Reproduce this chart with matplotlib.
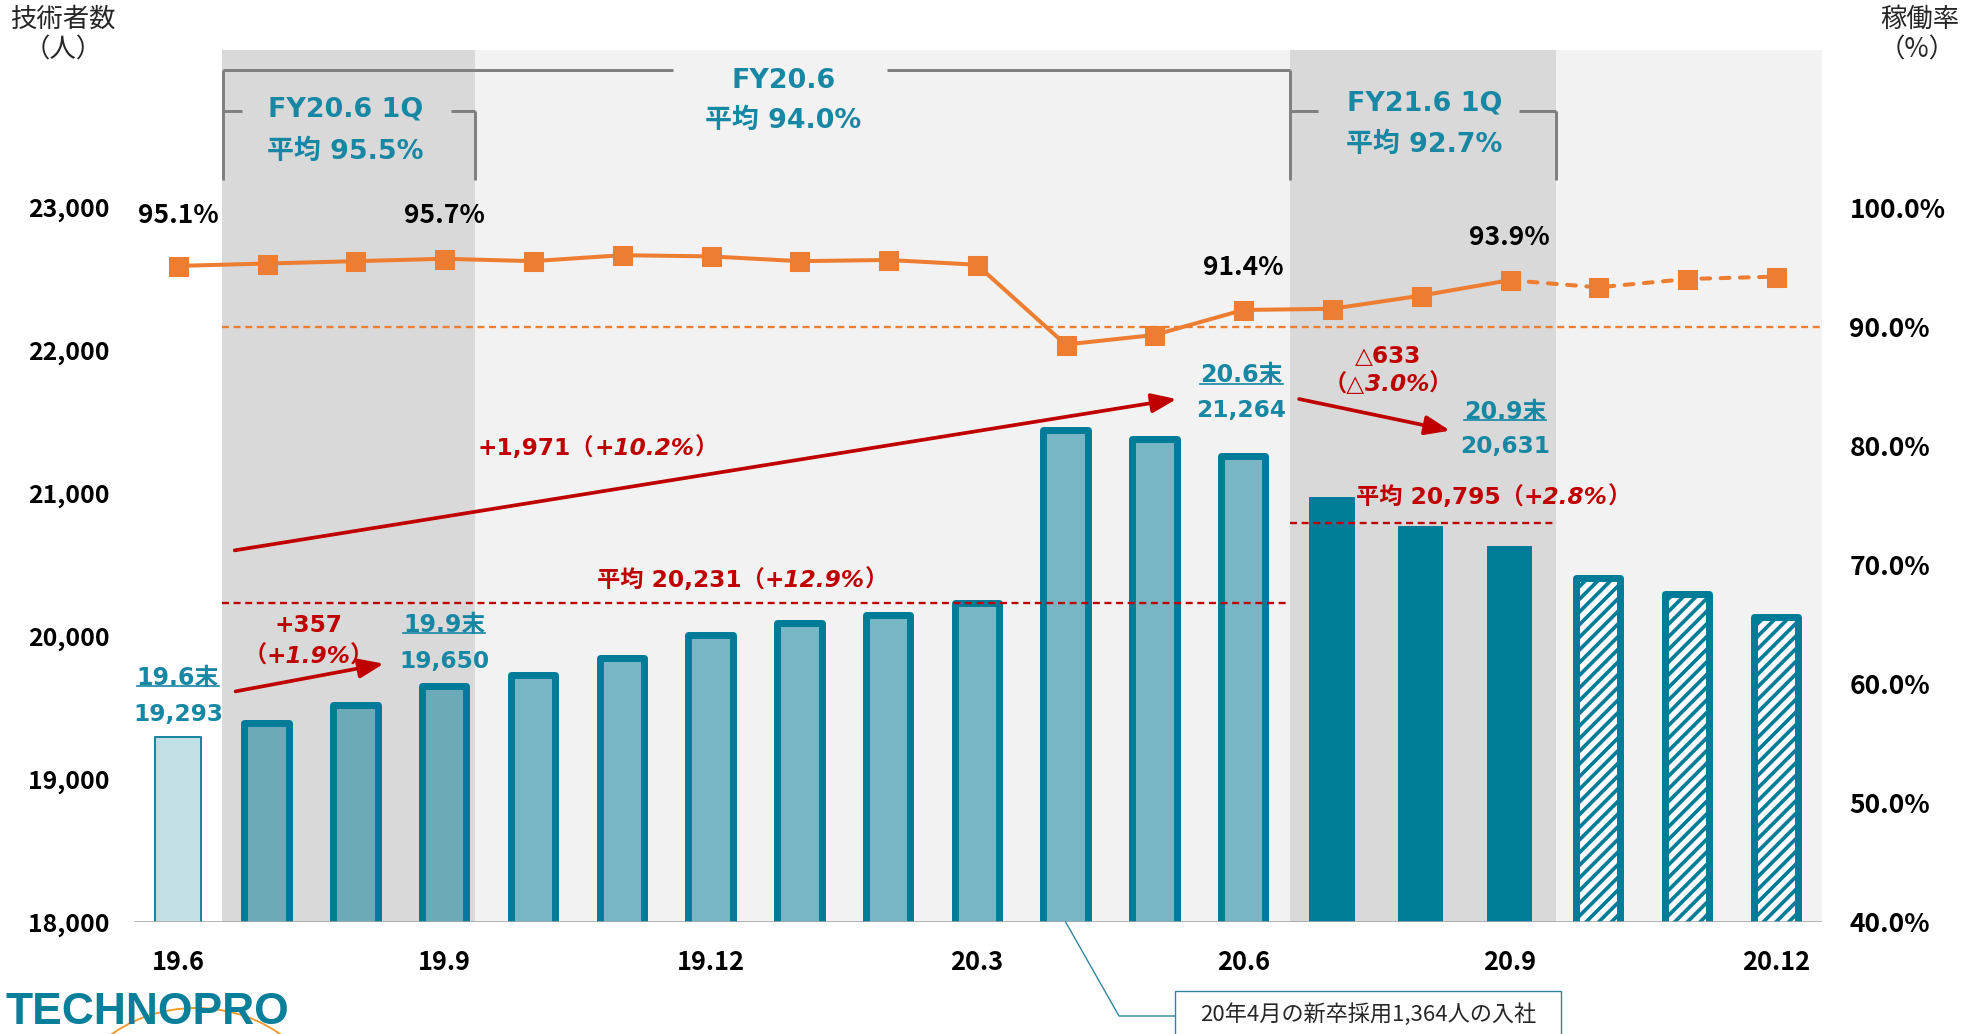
import numpy as np
import matplotlib.pyplot as plt
from matplotlib.patches import Rectangle, Arc
from matplotlib.lines import Line2D
from matplotlib.transforms import ScaledTranslation, IdentityTransform

# monthly data
months = ['19.6', '19.7', '19.8', '19.9', '19.10', '19.11', '19.12', '20.1', '20.2', '20.3',
          '20.4', '20.5', '20.6', '20.7', '20.8', '20.9', '20.10', '20.11', '20.12']
tick_months = ['19.6', '19.9', '19.12', '20.3', '20.6', '20.9', '20.12']
engineers = [19293, 19390, 19518, 19650, 19730, 19850, 20010, 20095, 20150, 20230,
             21440, 21380, 21264, 20972, 20769, 20631, 20409, 20295, 20136]
util_rate = [95.1, 95.3, 95.5, 95.7, 95.5, 96.0, 95.9, 95.5, 95.6, 95.2,
             88.5, 89.3, 91.4, 91.5, 92.6, 93.9, 93.3, 94.0, 94.2]
avg_fy20 = 20231
avg_fy21_1q = 20795
period_names = ['FY20.6 1Q', 'FY20.6', 'FY21.6 1Q']
period_avgs = ['平均 95.5%', '平均 94.0%', '平均 92.7%']
note = '20年4月の新卒採用1,364人の入社'

DPI = 76
W, H = 1974, 1034
TEAL = '#007c99'
TEAL_TXT = '#1787a3'
RED = '#c00000'
ORANGE = '#ed7d31'
GRAY = '#7f7f7f'
JP = ['Noto Sans CJK JP', 'DejaVu Sans']
VD = ['DejaVu Sans', 'Noto Sans CJK JP']

plt.rcParams['font.family'] = JP
plt.rcParams['hatch.linewidth'] = 3.5

fig = plt.figure(figsize=(W / DPI, H / DPI), dpi=DPI)
ax = fig.add_axes([133.5 / W, 112 / H, 1688.5 / W, 871.6 / H])
x = np.arange(len(months))

ax.set_xlim(-0.5, 18.52)
ax.set_ylim(18000, 24100)

# background shading
ax.axvspan(0.5, 18.52, color='#f2f2f2', lw=0, zorder=0)
ax.axvspan(0.5, 3.345, color='#d9d9d9', lw=0, zorder=0)
ax.axvspan(12.53, 15.52, color='#d9d9d9', lw=0, zorder=0)

# bars
bars = []
bars += ax.bar(x[0], engineers[0], width=0.52, color='#c2dfe5', edgecolor='#1a87a0', lw=1.9, zorder=2).patches
bars += ax.bar(x[1:13], engineers[1:13], width=0.5, color=(0, 0.486, 0.6, 0.5), edgecolor=TEAL,
               lw=6.6, zorder=2).patches
bars += ax.bar(x[13:16], engineers[13:16], width=0.51, color=TEAL, lw=0, zorder=2).patches
bars += ax.bar(x[16:], engineers[16:], width=0.5, color='white', edgecolor=TEAL, hatch='//',
               lw=6.6, zorder=2).patches
for p in bars:
    p.set_joinstyle('round')

ax.axhline(18000, color='#a6a6a6', lw=1.5, zorder=3)
for s in ax.spines.values():
    s.set_visible(False)
yt = np.arange(18000, 23001, 1000)
ax.set_yticks(yt, [f'{v:,}' for v in yt], fontsize=23.5, fontweight='bold')
ax.set_xticks(x[::3], tick_months, fontsize=24, fontweight='bold')
ax.tick_params(axis='y', length=0, pad=23)
ax.tick_params(axis='x', length=0, pad=26)

# average lines
ax.hlines(avg_fy20, 0.5, 12.53, colors=RED, linestyles=(0, (3, 2)), lw=2.2, zorder=3)
ax.hlines(avg_fy21_1q, 12.53, 15.52, colors=RED, linestyles=(0, (3, 2)), lw=2.2, zorder=3)

# utilisation rate on the right axis
ax2 = ax.twinx()
ax2.set_ylim(40, 113.2)
rt = np.arange(40, 101, 10)
ax2.set_yticks(rt, [f'{v:.1f}%' for v in rt], fontsize=25, fontweight='bold')
ax2.tick_params(axis='y', length=0, pad=26)
for s in ax2.spines.values():
    s.set_visible(False)
ax2.hlines(90, 0.5, 18.52, colors=ORANGE, linestyles=(0, (3, 2)), lw=2.2, zorder=1)
ax2.plot(x[:16], util_rate[:16], color=ORANGE, lw=3.8, zorder=4)
ax2.plot(x[15:], util_rate[15:], color=ORANGE, lw=3.8, ls=(0, (2.2, 2.6)), dash_capstyle='round', zorder=4)
ax2.plot(x, util_rate, 's', color=ORANGE, ms=18, zorder=5)
for i, dy in [(0, 4.2), (3, 3.6), (12, 3.6), (15, 3.6)]:
    ax2.text(x[i], util_rate[i] + dy, f'{util_rate[i]}%', ha='center', va='center',
             fontsize=25, fontweight='bold', color='black')

# period brackets
bt = ax.get_xaxis_transform()
segs = [([0.51, 0.51], [0.851, 0.978]), ([0.51, 5.58], [0.978, 0.978]),
        ([7.99, 12.53], [0.978, 0.978]), ([12.53, 12.53], [0.851, 0.978]),
        ([0.51, 0.72], [0.931, 0.931]), ([3.08, 3.345], [0.931, 0.931]),
        ([3.345, 3.345], [0.851, 0.931]), ([12.53, 12.84], [0.931, 0.931]),
        ([15.11, 15.52], [0.931, 0.931]), ([15.52, 15.52], [0.851, 0.931])]
for sx, sy in segs:
    ax.plot(sx, sy, color=GRAY, lw=2.8, transform=bt, clip_on=False, zorder=3,
            solid_capstyle='butt')
for (px_, y1, y2), name, avg in zip([(1.885, 0.932, 0.884), (6.82, 0.965, 0.919), (14.04, 0.939, 0.892)],
                                     period_names, period_avgs):
    ax.text(px_, y1, name, transform=bt, ha='center', va='center', fontsize=25.5,
            fontweight='bold', color=TEAL_TXT, family=VD)
    ax.text(px_, y2, avg, transform=bt, ha='center', va='center', fontsize=25.5,
            fontweight='bold', color=TEAL_TXT, family=VD)

# teal callouts
rich = []
underlined = []
for i, xs, ny, vy in [(0, 0.0, 19711, 19455), (3, 0.0, 20081, 19825),
                      (12, -0.02, 21827, 21580), (15, -0.05, 21571, 21325)]:
    t = ax.text(x[i] + xs, ny, months[i] + '末', ha='center', va='center', fontsize=22.5,
                fontweight='bold', color=TEAL_TXT, family=VD, zorder=6)
    underlined.append(t)
    ax.text(x[i] + xs, vy, f'{engineers[i]:,}', ha='center', va='center', fontsize=22,
            fontweight='bold', color=TEAL_TXT, family=VD, zorder=6)


def rich_text(xp, yp, parts, size=22):
    items = []
    for s, it in parts:
        t = ax.text(xp, yp, s, ha='left', va='center', fontsize=size, fontweight='bold',
                    fontstyle='italic' if it else 'normal', color=RED, family=VD, zorder=6)
        items.append(t)
    rich.append(items)


rich_text(1.47, 20072, [('+357', False)])
rich_text(1.47, 19861, [('（', False), ('+1.9%', True), ('）', False)])
rich_text(4.73, 21316, [('+1,971（', False), ('+10.2%', True), ('）', False)])
rich_text(13.63, 21959, [('△633', False)])
rich_text(13.63, 21765, [('（△', False), ('3.0%', True), ('）', False)])
rich_text(6.36, avg_fy20 + 160, [(f'平均 {avg_fy20:,}（', False), ('+12.9%', True), ('）', False)])
rich_text(14.82, avg_fy21_1q + 177, [(f'平均 {avg_fy21_1q:,}（', False), ('+2.8%', True), ('）', False)])

arrow = dict(arrowstyle='-|>,head_length=0.9,head_width=0.35', color=RED, lw=3.5,
             shrinkA=0, shrinkB=0, mutation_scale=22)
ax.annotate('', xy=(2.32, 19808), xytext=(0.65, 19614), arrowprops=arrow, zorder=6)
ax.annotate('', xy=(11.25, 21660), xytext=(0.64, 20601), arrowprops=arrow, zorder=6)
ax.annotate('', xy=(14.33, 21439), xytext=(12.63, 21660), arrowprops=arrow, zorder=6)

# axis titles
fig.text(63 / W, 1 - 19 / H, '技術者数', ha='center', va='center', fontsize=25, color='#262626')
fig.text(63 / W, 1 - 50 / H, '（人）', ha='center', va='center', fontsize=25, color='#262626')
fig.text(1920 / W, 1 - 19 / H, '稼働率', ha='center', va='center', fontsize=25, color='#262626')
fig.text(1917 / W, 1 - 50 / H, '（%）', ha='center', va='center', fontsize=25, color='#262626')

# note box with leader line
p0 = ax.transData.transform((10, 18000))
fig.add_artist(Line2D([p0[0], 1119, 1175], [p0[1], 18, 18], color='#31849b', lw=1.3,
                      transform=IdentityTransform()))
fig.add_artist(Rectangle((1175, -10), 386, 53, facecolor='white', edgecolor='#31849b', lw=1.3,
                         transform=IdentityTransform()))
fig.text(1368 / W, 19 / H, note, ha='center', va='center', fontsize=21, color='#262626')

# logo
fig.text(6 / W, 1 / H, 'TECHNOPRO', ha='left', va='bottom', fontsize=42, fontweight='bold',
         color='#0a7f9a', family='Liberation Sans')
fig.add_artist(Arc((196, -84), 260, 220, theta1=0, theta2=180, color='#f29a2e', lw=1.8,
                   transform=IdentityTransform()))

# place multi-style texts and underlines
fig.canvas.draw()
r = fig.canvas.get_renderer()
for items in rich:
    widths = [t.get_window_extent(r).width for t in items]
    off = -sum(widths) / 2
    for t, w in zip(items, widths):
        t.set_transform(ax.transData + ScaledTranslation(off / DPI, 0, fig.dpi_scale_trans))
        off += w
for t in underlined:
    bb = t.get_window_extent(r)
    yl = bb.y0 + 0.14 * bb.height
    fig.add_artist(Line2D([bb.x0, bb.x1], [yl, yl], color=TEAL_TXT, lw=1.6,
                          transform=IdentityTransform()))

fig.savefig('out.png', dpi=DPI)
